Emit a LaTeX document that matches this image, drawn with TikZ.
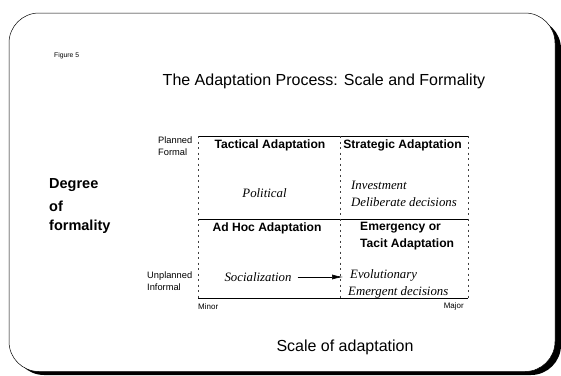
\documentclass[tikz,border=0pt]{standalone}
\usepackage{fontspec}
\setmainfont{Liberation Sans}
\newfontfamily\serifit{Liberation Serif}
\usetikzlibrary{arrows.meta}
\begin{document}
\begin{tikzpicture}[x=1pt,y=-1pt,
  sans/.style={font=\fontsize{#1}{#1}\selectfont, inner sep=0pt},
  heavy/.style={font=\bfseries\fontsize{#1}{#1}\selectfont, inner sep=0pt},
  ital/.style={font=\serifit\itshape\fontsize{12.8}{12.8}\selectfont, inner sep=0pt, anchor=west},
  small/.style={font=\fontsize{#1}{12}\selectfont, inner sep=0pt, anchor=west, align=left},
  cell/.style={font=\bfseries\fontsize{12.1}{12.1}\selectfont, inner sep=0pt},
  gridsolid/.style={line width=0.7pt},
  griddash/.style={line width=0.5pt, black!75, dash pattern=on 2pt off 3.5pt}]
\useasboundingbox (0,0) rectangle (561,375);
% frame with shadow
\fill[black, rounded corners=30pt] (14,19) rectangle (561,375);
\draw[fill=white, line width=0.5pt, rounded corners=30pt] (9,13) rectangle (555,371.5);
% texts
\node[small=6.8] (fig) at (54,56) {Figure 5};
\node[sans=16] (title) at (324,81) {The Adaptation Process: Scale and Formality};
\node[heavy=14.5, anchor=west] (deg1) at (49,185) {Degree};
\node[heavy=14.5, anchor=west] (deg2) at (49,206) {of};
\node[heavy=14.5, anchor=west] (deg3) at (49,227) {formality};
% grid coordinates
\coordinate (tl) at (198,136);
\coordinate (tm) at (340,136);
\coordinate (tr) at (468,136);
\coordinate (ml) at (198,219);
\coordinate (mr) at (468,219);
\coordinate (bl) at (198,298.5);
\coordinate (bm) at (340,298.5);
\coordinate (br) at (468,298.5);
\draw[gridsolid] (tl) -- (tr);
\draw[gridsolid] (ml) -- (mr);
\draw[gridsolid] (bl) -- (br);
\draw[griddash] (tl) -- (bl);
\draw[griddash] (tm) -- (bm);
\draw[griddash] (tr) -- (br);
% axis labels
\node[small=9.3] (pf) at (158,146) {Planned\\Formal};
\node[small=9.3] (ui) at (147,281.5) {Unplanned\\Informal};
\node[small=8] (minor) at (198,306.5) {Minor};
\node[small=8, anchor=east] (major) at (464,306.5) {Major};
% cells
\node[cell] (tact) at (270,145) {Tactical Adaptation};
\node[cell] (strat) at (402.5,145) {Strategic Adaptation};
\node[ital, anchor=center] (pol) at (264.5,193) {Political};
\node[ital] (inv) at (351,185) {Investment};
\node[ital] (del) at (351,202) {Deliberate decisions};
\node[cell] (adhoc) at (267,228) {Ad Hoc Adaptation};
\node[cell, anchor=west] (emer1) at (360,228) {Emergency or};
\node[cell, anchor=west] (emer2) at (360,244) {Tacit Adaptation};
\node[ital, anchor=center] (soc) at (258,277) {Socialization};
\node[ital] (evo) at (350,275) {Evolutionary};
\node[ital] (emd) at (348,292) {Emergent decisions};
\coordinate (sa) at ([xshift=6pt]soc.east);
\coordinate (sb) at (343,0 |- sa);
\draw[-{Latex[length=11pt,width=5pt]}, line width=0.6pt] (sa) -- (sb);
% axis title
\node[sans=16] (scale) at (345,347) {Scale of adaptation};
\end{tikzpicture}
\end{document}
